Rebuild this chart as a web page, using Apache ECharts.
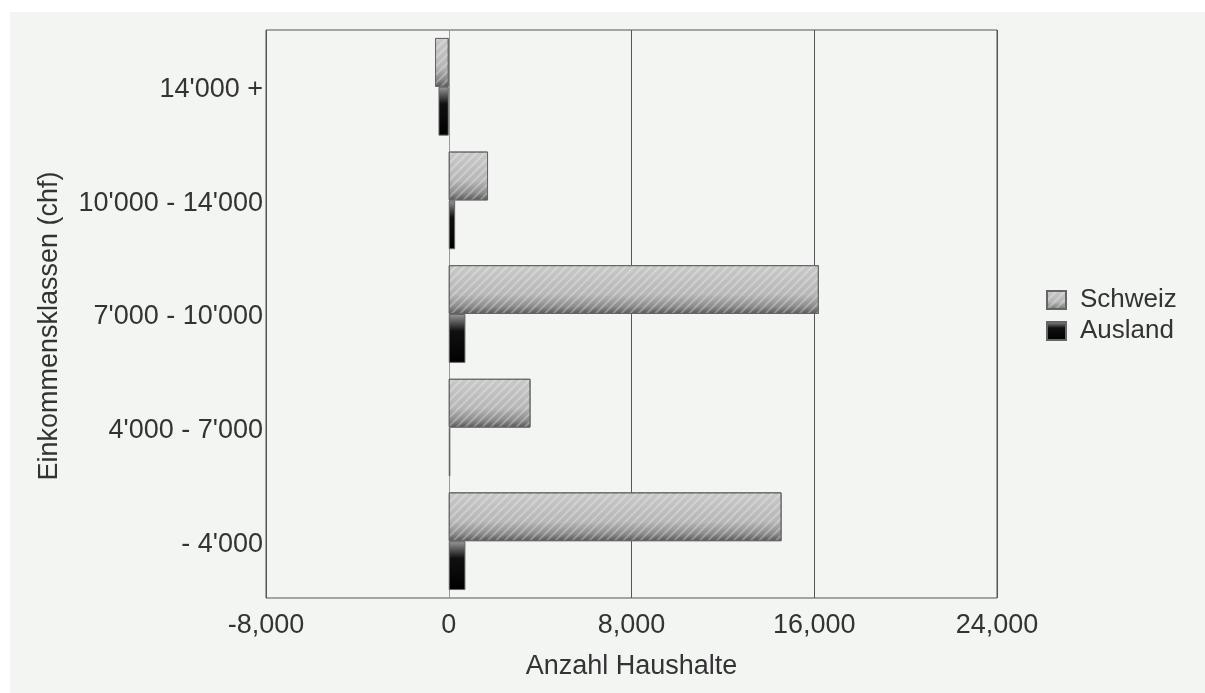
<!DOCTYPE html>
<html>
<head>
<meta charset="utf-8">
<script src="https://cdn.jsdelivr.net/npm/echarts@6/dist/echarts.min.js"></script>
<style>
html,body{margin:0;padding:0;background:#fff;}
#chart{width:1205px;height:693px;}
</style>
</head>
<body>
<div id="chart"></div>
<script>
// Categories listed top to bottom
var categories = ["14'000 +", "10'000 - 14'000", "7'000 - 10'000", "4'000 - 7'000", "- 4'000"];
var schweiz = [-600, 1720, 16200, 3580, 14570];
var ausland = [-450, 280, 730, 70, 730];
var seriesNames = ['Schweiz', 'Ausland'];
var xMin = -8000, xMax = 24000, xInterval = 8000;

var FONT = '"Liberation Sans", Arial, sans-serif';
var chart = echarts.init(document.getElementById('chart'));

var schweizColor = new echarts.graphic.LinearGradient(0, 0, 0, 1, [
  {offset: 0, color: '#c9c9c9'},
  {offset: 0.6, color: '#b6b6b6'},
  {offset: 0.85, color: '#8a8a8a'},
  {offset: 1, color: '#555555'}
]);
var auslandColor = new echarts.graphic.LinearGradient(0, 0, 0, 1, [
  {offset: 0, color: '#9a9a9a'},
  {offset: 0.35, color: '#101010'},
  {offset: 1, color: '#000000'}
]);

chart.setOption({
  backgroundColor: '#ffffff',
  animation: false,
  graphic: [{
    type: 'rect', left: 10, top: 12, z: -10,
    shape: {width: 1195, height: 681},
    style: {fill: '#f3f5f2'}
  }],
  grid: {left: 266, right: 208, top: 30, bottom: 95, show: true, borderColor: '#555', borderWidth: 1, backgroundColor: 'transparent'},
  legend: {
    data: seriesNames,
    orient: 'vertical',
    icon: 'rect',
    left: 1041,
    top: 282,
    itemWidth: 19,
    itemHeight: 18,
    itemGap: 5,
    textStyle: {fontFamily: FONT, fontSize: 26, color: '#333', padding: [0, 0, 0, 9]}
  },
  xAxis: {
    type: 'value',
    min: xMin, max: xMax, interval: xInterval,
    name: 'Anzahl Haushalte',
    nameLocation: 'middle',
    nameGap: 55,
    nameTextStyle: {fontFamily: FONT, fontSize: 27, color: '#333'},
    axisLine: {show: false},
    axisTick: {show: false},
    axisLabel: {fontFamily: FONT, fontSize: 27, color: '#333', margin: 14,
      formatter: function (v) { return v.toLocaleString('en-US'); }},
    splitLine: {show: true, lineStyle: {color: ['#555', '#999', '#555', '#555', '#555'], width: 1}}
  },
  yAxis: {
    type: 'category',
    data: categories,
    inverse: true,
    name: 'Einkommensklassen (chf)',
    nameLocation: 'middle',
    nameGap: 203,
    nameTextStyle: {fontFamily: FONT, fontSize: 27, color: '#333', padding: [0, 24, 0, 0]},
    axisLine: {show: false},
    axisTick: {show: false},
    axisLabel: {
      margin: 3,
      formatter: function (v) { return '{a|' + v + '}'; },
      rich: {a: {fontFamily: FONT, fontSize: 27, color: '#333', padding: [6, 0, 0, 0]}}
    }
  },
  series: [{
    name: seriesNames[0],
    type: 'bar',
    data: schweiz,
    barGap: '0%',
    barCategoryGap: '14%',
    itemStyle: {
      color: schweizColor,
      borderColor: '#666',
      borderWidth: 1,
      decal: {symbol: 'rect', symbolSize: 1, dashArrayX: [1, 0], dashArrayY: [2, 4], rotation: -Math.PI / 4, color: 'rgba(255,255,255,0.28)'}
    }
  }, {
    name: seriesNames[1],
    type: 'bar',
    data: ausland,
    itemStyle: {color: auslandColor, borderColor: '#666', borderWidth: 1}
  }]
});
</script>
</body>
</html>
